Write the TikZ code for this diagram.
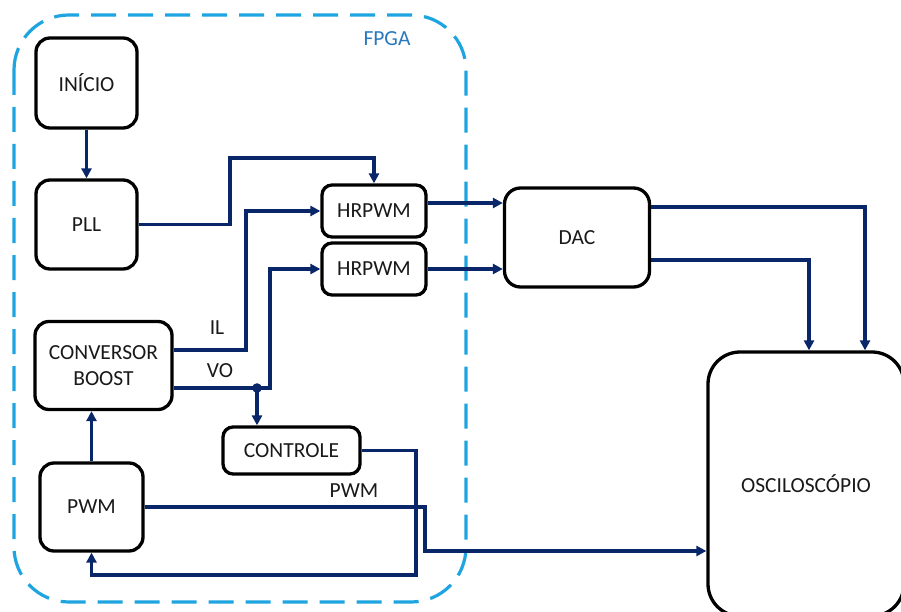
\documentclass[tikz,border=0pt]{standalone}
\usepackage{fontspec}
\setmainfont{Carlito}
\usetikzlibrary{arrows.meta,calc}
\definecolor{navy}{RGB}{8,38,104}
\definecolor{fpgablue}{RGB}{30,165,225}
\definecolor{fpgatext}{RGB}{40,120,190}
\definecolor{txt}{RGB}{25,25,25}
\begin{document}
\begin{tikzpicture}[x=1pt,y=-1pt,
  blk/.style={draw=black,line width=3.3pt,rounded corners=14pt,inner sep=0pt,align=center,font=\fontsize{21.5}{26}\selectfont,text=txt},
  conn/.style={draw=navy,line width=3.2pt},
  arr/.style={conn,-{Triangle[length=10pt,width=10pt]}},
  lbl/.style={font=\fontsize{21.5}{26}\selectfont,text=txt,inner sep=0pt},
  fpga/.style={draw=fpgablue,line width=3.2pt,dash pattern=on 25pt off 12pt,rounded corners=55pt}]
\useasboundingbox (0,0) rectangle (901,612);
\draw[fpga] (14,15) rectangle (466,602);
\node[lbl,text=fpgatext] (fpgal) at (387,39) {FPGA};

\node[blk,minimum width=101pt,minimum height=90pt] (inicio) at (86.5,83) {INÍCIO};
\node[blk,minimum width=101pt,minimum height=89pt] (pll) at (86.5,224.5) {PLL};
\node[blk,minimum width=104pt,minimum height=52pt,rounded corners=10pt] (hr1) at (374,211) {HRPWM};
\node[blk,minimum width=104pt,minimum height=52pt,rounded corners=10pt] (hr2) at (374,269) {HRPWM};
\node[blk,minimum width=137pt,minimum height=88pt] (conv) at (103.5,365.5) {CONVERSOR\\BOOST};
\node[blk,minimum width=103pt,minimum height=88pt] (pwm) at (91.5,507) {PWM};
\node[blk,minimum width=137pt,minimum height=47pt,rounded corners=10pt] (ctrl) at (291.5,450.5) {CONTROLE};
\node[blk,minimum width=145pt,minimum height=99pt,rounded corners=16pt] (dac) at (577,237.5) {DAC};
\node[blk,minimum width=196pt,minimum height=264pt,rounded corners=32pt] (osc) at (806,484) {OSCILOSCÓPIO};

\node[lbl] (il) at (217,328) {IL};
\node[lbl] (vo) at (220,371) {VO};
\node[lbl] (pwml) at (354,491) {PWM};

% INICIO -> PLL
\draw[arr] (inicio.south) -- (pll.north);
% PLL -> HRPWM1
\draw[arr] (pll.east) -| (230,158) -| (hr1.north);
% IL -> HRPWM1
\coordinate (ilo) at ([yshift=15.5pt]conv.east);
\draw[arr] (ilo) -| (246,211) -- (hr1.west);
% VO -> HRPWM2
\coordinate (voo) at ([yshift=-22.5pt]conv.east);
\draw[arr] (voo) -| (270,269) -- (hr2.west);
\coordinate (dot) at (257,388);
\fill[navy] (dot) circle (4.8pt);
\draw[arr] (dot) -- (dot |- ctrl.north);
% PWM -> CONVERSOR
\draw[arr] (pwm.north) -- (pwm.north |- conv.south);
% CONTROLE -> PWM
\draw[arr] (ctrl.east) -| (416,575) -| (pwm.south);
% PWM -> OSC
\coordinate (pwmin) at ([yshift=-67pt]osc.west);
\draw[arr] (pwm.east) -| (425,551) -- (pwmin);
% HRPWM -> DAC
\coordinate (h1o) at ([yshift=8pt]hr1.east);
\draw[arr] (h1o) -- (h1o -| dac.west);
\draw[arr] (hr2.east) -- (hr2.east -| dac.west);
% DAC -> OSC
\coordinate (d1) at ([yshift=30.5pt]dac.east);
\coordinate (d2) at ([yshift=-22.5pt]dac.east);
\draw[arr] (d1) -| ([xshift=59pt]osc.north);
\draw[arr] (d2) -| ([xshift=3pt]osc.north);
\end{tikzpicture}
\end{document}
